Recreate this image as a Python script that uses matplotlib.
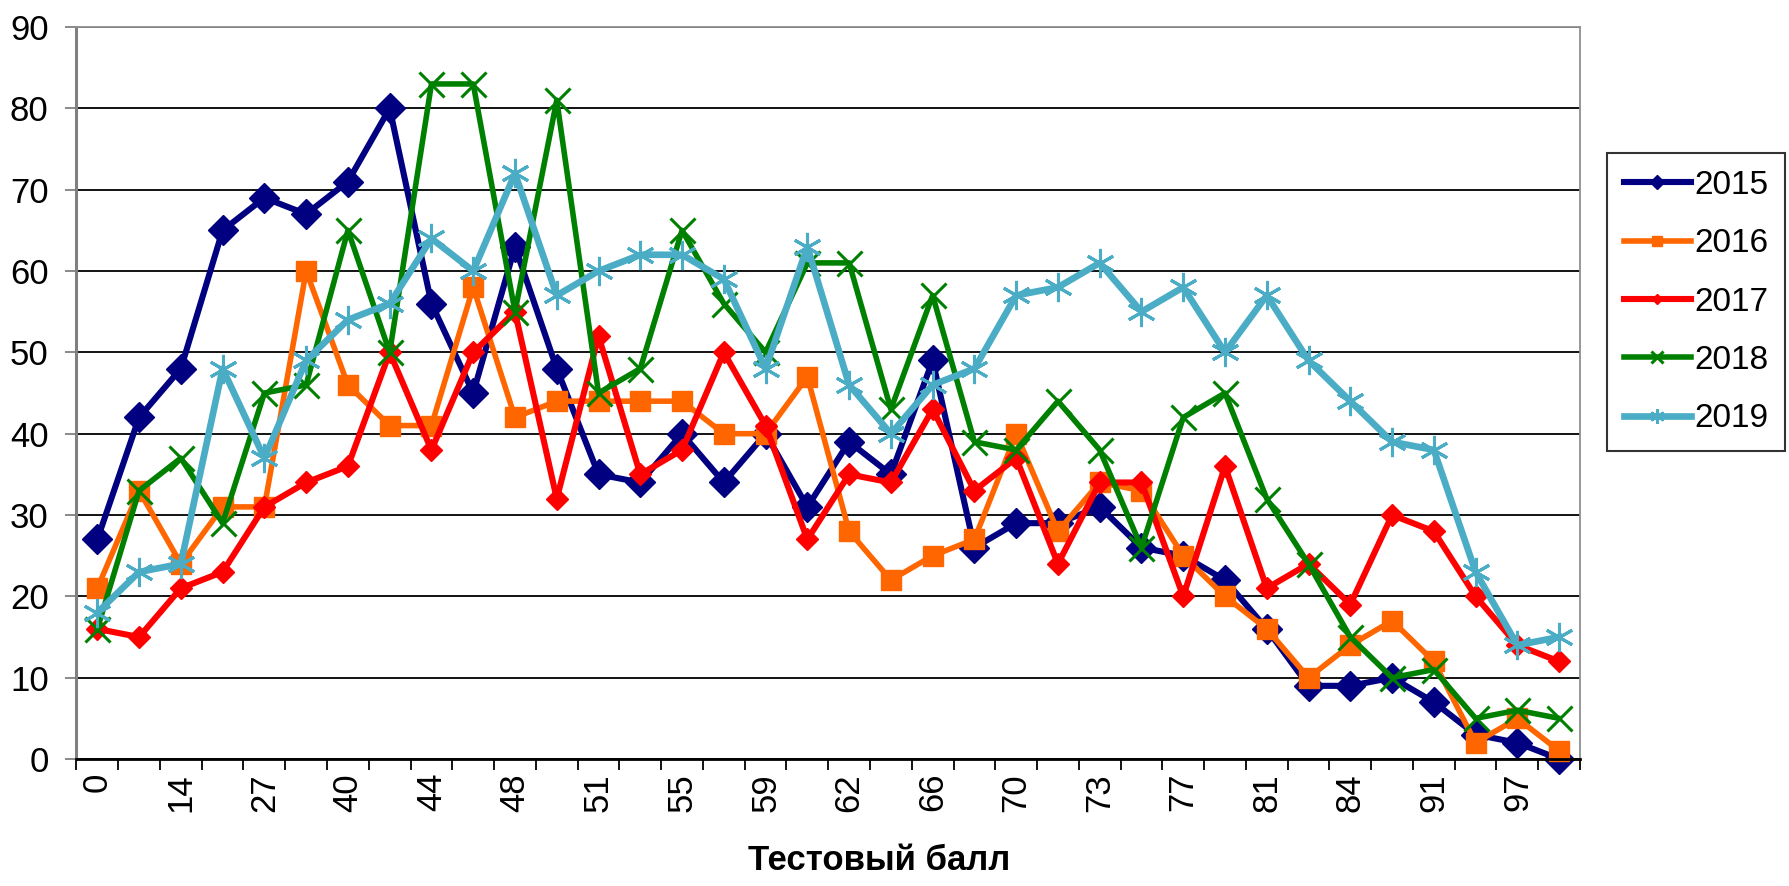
import numpy as np
import matplotlib
matplotlib.use("Agg")
import matplotlib.pyplot as plt

# every second category label is shown on the axis
tick_labels = ["0", "14", "27", "40", "44", "48", "51", "55", "59",
               "62", "66", "70", "73", "77", "81", "84", "91", "97"]

y2015 = [27, 42, 48, 65, 69, 67, 71, 80, 56, 45, 63, 48, 35, 34, 40, 34, 40, 31,
         39, 35, 49, 26, 29, 29, 31, 26, 25, 22, 16, 9, 9, 10, 7, 3, 2, 0]
y2016 = [21, 33, 24, 31, 31, 60, 46, 41, 41, 58, 42, 44, 44, 44, 44, 40, 40, 47,
         28, 22, 25, 27, 40, 28, 34, 33, 25, 20, 16, 10, 14, 17, 12, 2, 5, 1]
y2017 = [16, 15, 21, 23, 31, 34, 36, 50, 38, 50, 55, 32, 52, 35, 38, 50, 41, 27,
         35, 34, 43, 33, 37, 24, 34, 34, 20, 36, 21, 24, 19, 30, 28, 20, 14, 12]
y2018 = [16, 33, 37, 29, 45, 46, 65, 50, 83, 83, 55, 81, 45, 48, 65, 56, 50, 61,
         61, 43, 57, 39, 38, 44, 38, 26, 42, 45, 32, 24, 15, 10, 11, 5, 6, 5]
y2019 = [18, 23, 24, 48, 37, 49, 54, 56, 64, 60, 72, 57, 60, 62, 62, 59, 48, 63,
         46, 40, 46, 48, 57, 58, 61, 55, 58, 50, 57, 49, 44, 39, 38, 23, 14, 15]

years = ["2015", "2016", "2017", "2018", "2019"]
series = [y2015, y2016, y2017, y2018, y2019]

styles = [
    dict(color="#000080", marker="D", ms=15, lw=4.4),
    dict(color="#FF6600", marker="s", ms=15, lw=4.0),
    dict(color="#FF0000", marker="D", ms=11, lw=4.4),
    dict(color="#008000", marker="x", ms=18, mew=2.2, lw=4.0),
    dict(color="#4BACC6", marker=(6, 2, 0), ms=21, mew=2.2, lw=4.8),
]

fam = ["Liberation Sans Narrow", "Liberation Sans", "DejaVu Sans"]
plt.rcParams["font.family"] = fam

fig = plt.figure(figsize=(17.9, 8.86), dpi=100)
ax = fig.add_axes([0.0427, 0.1433, 0.8400, 0.8262])

x = np.arange(len(y2015))
for name, vals, st in zip(years, series, styles):
    ax.plot(x, vals, label=name, clip_on=False, **st)

ax.set_xlim(-0.5, len(x) - 0.5)
ax.set_ylim(0, 90)

ax.set_yticks(range(0, 91, 10))
ax.yaxis.grid(True, color="black", lw=1.3)
ax.set_axisbelow(True)
ax.tick_params(axis="y", length=8, width=1.3, color="#808080", pad=12,
               labelsize=25)

# tick marks at category boundaries, labels at every other category centre
ax.set_xticks(np.arange(-0.5, len(x), 1))
ax.set_xticklabels([])
ax.tick_params(axis="x", which="major", length=8, width=1.3, color="black")
ax.set_xticks(np.arange(0, len(x), 2), minor=True)
ax.set_xticklabels(tick_labels, minor=True, rotation=90, fontsize=25)
ax.tick_params(axis="x", which="minor", length=0, pad=10)

for s in ["top", "right"]:
    ax.spines[s].set_color("#909090")
    ax.spines[s].set_linewidth(1.3)
ax.spines["left"].set_color("#808080")
ax.spines["left"].set_linewidth(2.2)
ax.spines["bottom"].set_color("black")
ax.spines["bottom"].set_linewidth(2.0)

fig.text(879 / 1790, 0.010, "Тестовый балл", ha="center", va="bottom",
         fontsize=25, fontweight="bold")

leg = fig.legend(loc="upper left", bbox_to_anchor=(0.898, 0.827),
                 borderaxespad=0, frameon=True, fancybox=False,
                 edgecolor="black", markerscale=0.5, handlelength=2.0,
                 handletextpad=0.1, labelspacing=0.82, borderpad=0.5,
                 prop={"size": 24})
leg.get_frame().set_linewidth(1.5)

fig.savefig("out.png", dpi=100, facecolor="white")
